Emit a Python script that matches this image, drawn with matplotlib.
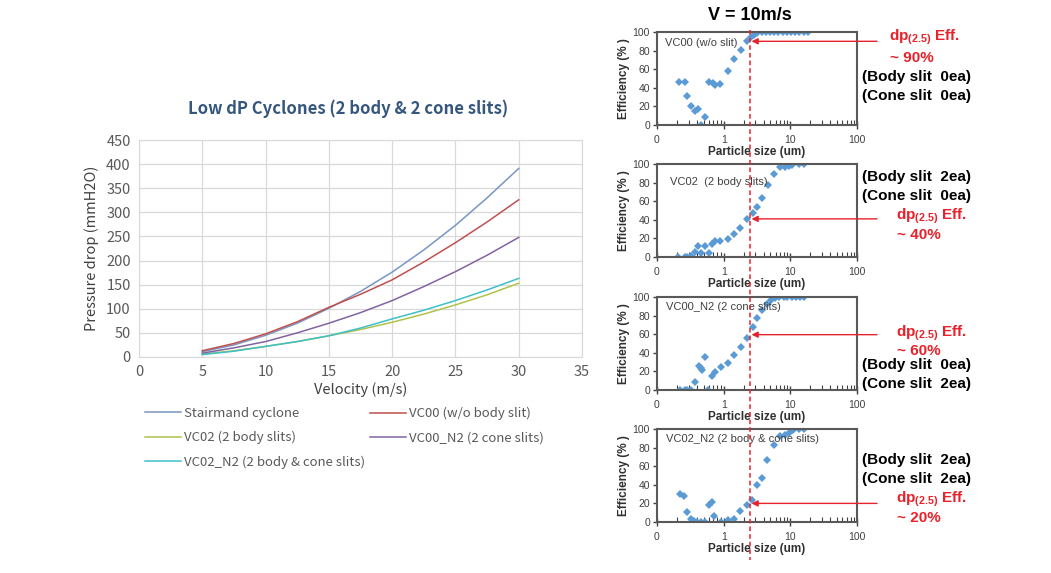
import matplotlib
matplotlib.use("Agg")
import matplotlib.pyplot as plt
import matplotlib.transforms as mtransforms
from matplotlib.lines import Line2D
from matplotlib.ticker import FixedLocator, FixedFormatter, LogLocator, NullFormatter

plt.rcParams['mathtext.fontset'] = 'custom'
plt.rcParams['mathtext.bf'] = 'Liberation Sans:bold'
plt.rcParams['mathtext.rm'] = 'Liberation Sans:bold'

# Left chart: pressure drop vs velocity
velocity = [5, 7.5, 10, 12.5, 15, 17.5, 20, 22.5, 25, 27.5, 30]
dp_stairmand = [11, 25, 45, 70, 101, 136, 176, 222, 273, 330, 391]
dp_vc00 = [13, 28, 48, 73, 103, 130, 160, 197, 237, 280, 326]
dp_vc02 = [6, 13, 22, 32, 44, 57, 72, 89, 108, 129, 153]
dp_vc00_n2 = [8, 19, 32, 50, 70, 92, 117, 146, 177, 211, 248]
dp_vc02_n2 = [5, 12, 22, 32, 44, 60, 79, 97, 117, 139, 163]

series_names = ["Stairmand cyclone", "VC00 (w/o body slit)", "VC02 (2 body slits)",
                "VC00_N2 (2 cone slits)", "VC02_N2 (2 body & cone slits)"]
series_colors = ["#7896c4", "#c0504d", "#b0c24a", "#8064a2", "#3fbfc9"]

# Right panels: efficiency vs particle size at V = 10 m/s
size_p1 = [0.212, 0.26, 0.283, 0.32, 0.378, 0.414, 0.46, 0.53, 0.61, 0.68, 0.74, 0.88,
           1.15, 1.44, 1.82, 2.21, 2.54, 2.85, 3.2, 3.7, 4.27, 4.97, 5.7, 6.6, 7.7,
           8.85, 10.2, 11.8, 13.7, 16, 18.7]
eff_p1 = [46.6, 46, 31, 20.5, 15, 17.7, 0.5, 9, 46.6, 45, 43, 44.5,
          58, 70.7, 80.6, 90.5, 94.7, 97, 98.6, 99.6, 100, 100, 100, 100, 100,
          100, 100, 100, 100, 100, 100]

size_p2 = [0.21, 0.26, 0.28, 0.32, 0.37, 0.414, 0.46, 0.53, 0.61, 0.665, 0.74, 0.88,
           1.15, 1.43, 1.75, 2.21, 2.72, 3.2, 3.7, 4.58, 5.7, 7.0, 8.2, 9.4, 10.5,
           13.7, 16]
eff_p2 = [0, 0, 0, 0.7, 5.4, 12, 4, 12, 4, 14, 16.8, 16.8,
          19.3, 24.6, 31, 41, 47.5, 54.3, 63.2, 77.5, 89.3, 96.4, 96.4, 97.9, 99,
          100, 100]

size_p3 = [0.22, 0.26, 0.28, 0.32, 0.378, 0.42, 0.45, 0.48, 0.53, 0.59, 0.665, 0.74,
           0.9, 1.15, 1.44, 1.8, 2.24, 2.72, 3.2, 3.7, 4.4, 5.1, 5.9, 6.8, 7.9,
           9.05, 10.5, 12.2, 14, 16.1]
eff_p3 = [0, 0, 0, 0, 8.2, 26, 23.7, 22, 36, 0, 14.7, 19,
          24.4, 29.4, 37.3, 46.6, 55.9, 67.4, 77.4, 85.7, 92.8, 96.4, 98.9, 100, 100,
          100, 100, 100, 100, 100]

size_p4 = [0.22, 0.25, 0.28, 0.32, 0.36, 0.4, 0.46, 0.53, 0.6, 0.66, 0.72, 0.9,
           1.15, 1.44, 1.75, 2.21, 2.7, 3.15, 3.77, 4.4, 5.7, 7.0, 8.2, 9.4, 11.1,
           13.7, 16]
eff_p4 = [29.9, 28.4, 10.8, 2.9, 1.1, 0, 0, 0, 18, 21.6, 6.1, 0,
          2.5, 3.6, 11.9, 18.7, 24.1, 39.6, 47.8, 66.2, 82.7, 92.4, 93.5, 95.3, 98.9,
          100, 100]

panel_titles = ["VC00 (w/o slit)", "VC02  (2 body slits)", "VC00_N2 (2 cone slits)",
                "VC02_N2 (2 body & cone slits)"]
dp25_eff = [90, 41, 59.5, 20]
dp25_labels = ["~ 90%", "~ 40%", "~ 60%", "~ 20%"]
body_slits = ["0ea", "2ea", "0ea", "2ea"]
cone_slits = ["0ea", "0ea", "2ea", "2ea"]

W, H = 1051, 573
fig = plt.figure(figsize=(W / 100, H / 100), dpi=100)
fig.patch.set_facecolor("white")

def fx(px):
    return px / W

def fy(py):
    return 1 - py / H

# ---- left chart
left_font = "Noto Sans CJK KR"
ax = fig.add_axes([fx(139), fy(357), fx(582 - 139), (357 - 140) / H])
all_dp = [dp_stairmand, dp_vc00, dp_vc02, dp_vc00_n2, dp_vc02_n2]
handles = []
for vals, name, col in zip(all_dp, series_names, series_colors):
    h, = ax.plot(velocity, vals, color=col, lw=1.1, label=name)
    handles.append(h)
ax.set_xlim(0, 35)
ax.set_ylim(0, 450)
ax.set_xticks(range(0, 36, 5))
ax.set_yticks(range(0, 451, 50))
ax.grid(True, color="#d9d9d9", lw=0.9)
ax.set_axisbelow(True)
for s in ax.spines.values():
    s.set_color("#d9d9d9")
ax.tick_params(length=0, labelcolor="#595959", labelsize=10.5, pad=6)
for lab in ax.get_xticklabels() + ax.get_yticklabels():
    lab.set_family(left_font)
ax.set_xlabel("Velocity (m/s)", fontsize=10.5, color="#404040", family=left_font, labelpad=2)
ax.set_ylabel("Pressure drop (mmH2O)", fontsize=10.5, color="#404040", family=left_font, labelpad=5)
fig.text(fx(348), fy(109), "Low dP Cyclones (2 body & 2 cone slits)", ha="center", va="center",
         fontsize=12, fontweight="bold", color="#35577d", family=left_font)

leg_a = fig.legend([handles[0], handles[2], handles[4]],
                   [series_names[0], series_names[2], series_names[4]],
                   loc="upper left", bbox_to_anchor=(fx(133), fy(395)), frameon=False,
                   handlelength=2.7, labelspacing=0.85, handletextpad=0.3,
                   prop={"family": left_font, "size": 9.5})
leg_b = fig.legend([handles[1], handles[3]], [series_names[1], series_names[3]],
                   loc="upper left", bbox_to_anchor=(fx(358), fy(395)), frameon=False,
                   handlelength=2.7, labelspacing=0.85, handletextpad=0.3,
                   prop={"family": left_font, "size": 9.5})
for lg in (leg_a, leg_b):
    for t in lg.get_texts():
        t.set_color("#595959")

# ---- right panels
rfont = "Liberation Sans"
panel_tops = [32, 164, 297, 429]
panel_h = 93
sizes = [size_p1, size_p2, size_p3, size_p4]
effs = [eff_p1, eff_p2, eff_p3, eff_p4]
title_pos = [(0.04, 0.88), (0.065, 0.81), (0.045, 0.89), (0.045, 0.89)]
axes_r = []
for i in range(4):
    top = panel_tops[i]
    a = fig.add_axes([fx(657), fy(top + panel_h), fx(200), panel_h / H])
    axes_r.append(a)
    a.plot(sizes[i], effs[i], ls="none", marker="D", ms=3.6, mew=0, color="#5b9bd5")
    a.set_xscale("log")
    a.set_xlim(0.1, 100)
    a.set_ylim(0, 100)
    a.xaxis.set_major_locator(FixedLocator([0.1, 1, 10, 100]))
    a.xaxis.set_major_formatter(FixedFormatter(["0", "1", "10", "100"]))
    a.xaxis.set_minor_locator(LogLocator(base=10, subs=range(2, 10)))
    a.xaxis.set_minor_formatter(NullFormatter())
    a.set_yticks(range(0, 101, 20))
    a.tick_params(axis="x", which="major", direction="inout", length=6, width=1, labelsize=7.5,
                  colors="#404040", pad=4)
    a.tick_params(axis="x", which="minor", direction="in", length=3.5, width=0.8, colors="#404040")
    a.tick_params(axis="y", direction="out", length=3, width=1, labelsize=7.5, colors="#404040", pad=2)
    for lab in a.get_xticklabels() + a.get_yticklabels():
        lab.set_family(rfont)
        lab.set_color("#404040")
    for s in a.spines.values():
        s.set_color("#595959")
        s.set_linewidth(1.5)
    a.set_ylabel("Efficiency (% )", fontsize=8.5, fontweight="bold", family=rfont,
                 color="#303030", labelpad=2)
    a.set_xlabel("Particle size (um)", fontsize=8.5, fontweight="bold", family=rfont,
                 color="#303030", labelpad=1)
    a.text(title_pos[i][0], title_pos[i][1], panel_titles[i], transform=a.transAxes,
           fontsize=8, family=rfont, color="#404040", va="center", ha="left")
    a.annotate("", xy=(2.62, dp25_eff[i]), xycoords="data",
               xytext=(fx(877), dp25_eff[i]), textcoords=("figure fraction", "data"),
               arrowprops=dict(arrowstyle="-|>", color="#e8212a", lw=1.0, mutation_scale=9,
                               shrinkA=0, shrinkB=0),
               annotation_clip=False)

# dashed line at dp = 2.5 um through all panels
trans = mtransforms.blended_transform_factory(axes_r[0].transData, fig.transFigure)
fig.add_artist(Line2D([2.5, 2.5], [fy(30), fy(560)], transform=trans, color="#e8212a",
                      ls=(0, (3, 2)), lw=1.1))

fig.text(fx(750), fy(15), "V = 10m/s", ha="center", va="center", fontsize=13,
         fontweight="bold", family=rfont, color="black")

# annotation texts beside panels
dp_y = [37, 216, 333, 499]
pct_y = [58, 235, 351, 518]
body_y = [77, 177, 365, 460]
cone_y = [96, 196, 384, 479]
dp_x = [889, 896, 896, 896]
for i in range(4):
    fig.text(fx(dp_x[i]), fy(dp_y[i]), r"$\mathbf{dp}_{\mathbf{(2.5)}}$ Eff.", color="#e8212a",
             fontsize=11, fontweight="bold", family=rfont, va="center", ha="left")
    fig.text(fx(dp_x[i] + 1), fy(pct_y[i]), dp25_labels[i], color="#e8212a",
             fontsize=11, fontweight="bold", family=rfont, va="center", ha="left")
    fig.text(fx(862), fy(body_y[i]), "(Body slit  " + body_slits[i] + ")", color="black",
             fontsize=11, fontweight="bold", family=rfont, va="center", ha="left")
    fig.text(fx(862), fy(cone_y[i]), "(Cone slit  " + cone_slits[i] + ")", color="black",
             fontsize=11, fontweight="bold", family=rfont, va="center", ha="left")

fig.savefig("out.png", dpi=100, facecolor="white")
